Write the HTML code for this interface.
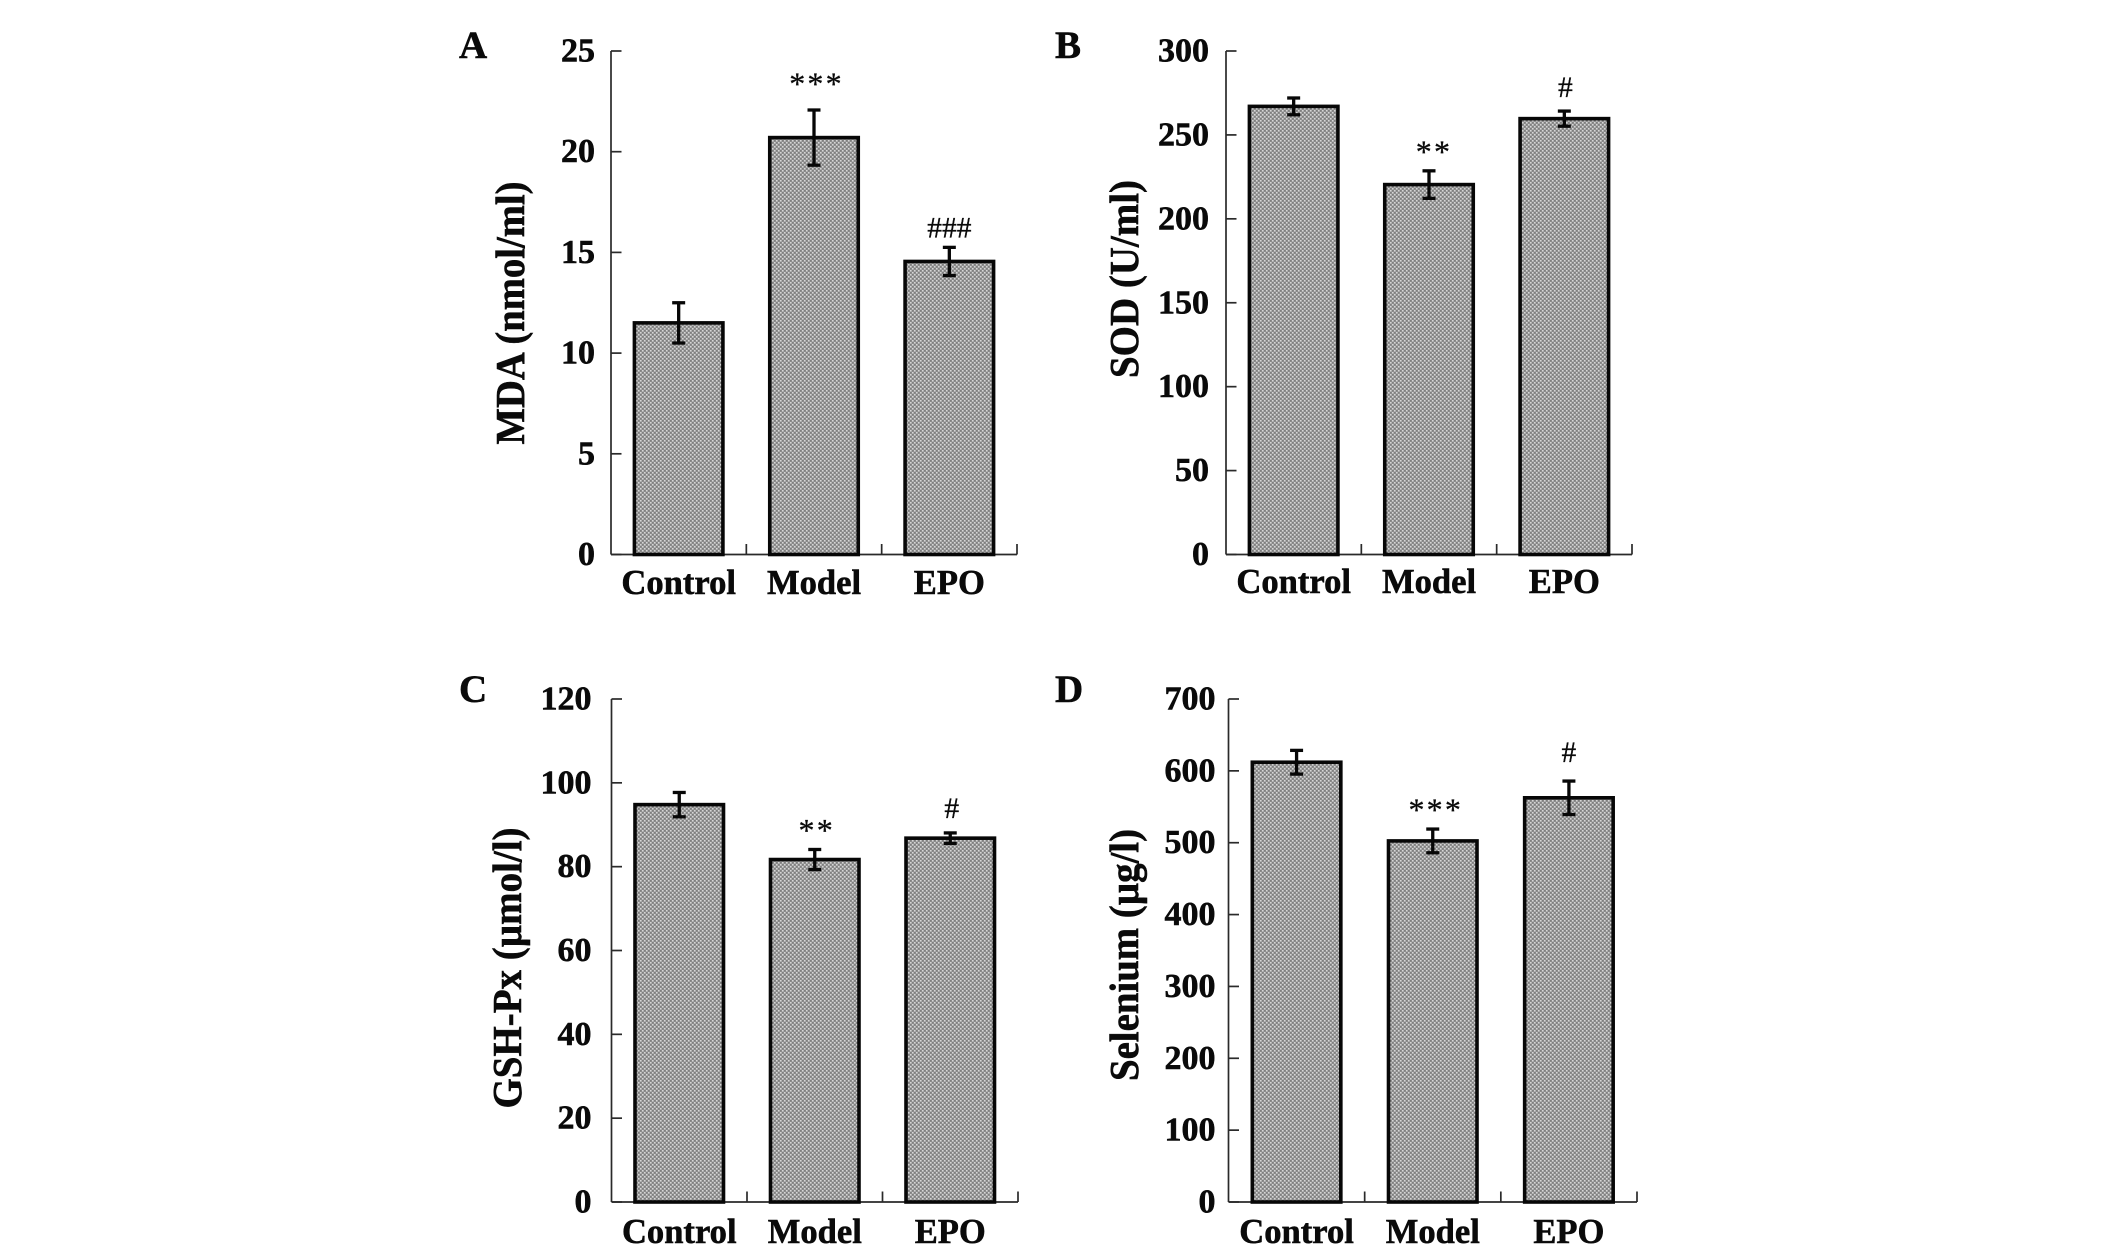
<!DOCTYPE html>
<html lang="en">
<head>
<meta charset="utf-8">
<title>Oxidative stress markers by group</title>
<style>
  html, body { margin: 0; padding: 0; background: #fff; }
  body { width: 2126px; height: 1251px; overflow: hidden; }
  svg { display: block; }
  text { font-family: "Liberation Serif", serif; fill: #0a0a0a; }
  .bold { font-weight: 700; stroke: #0a0a0a; stroke-width: 0.55px; }
  .sig { stroke: #0a0a0a; stroke-width: 0.3px; }
</style>
</head>
<body>
<svg id="figure" xmlns="http://www.w3.org/2000/svg" width="2126" height="1251" viewBox="0 0 2126 1251">
  <defs>
    <pattern id="halftone" width="4" height="4" patternUnits="userSpaceOnUse">
      <rect width="4" height="4" fill="#959595"></rect>
      <rect x="0" y="0" width="1.5" height="1.5" fill="#d6d6d6"></rect>
      <rect x="2" y="2" width="1.5" height="1.5" fill="#d6d6d6"></rect>
      <rect x="2" y="0" width="1.5" height="1.5" fill="#7e7e7e"></rect>
      <rect x="0" y="2" width="1.5" height="1.5" fill="#7e7e7e"></rect>
    </pattern>
  </defs>
  <rect width="2126" height="1251" fill="#ffffff"></rect>
</svg>
<script>
// ---- Chart data ----
const categories = ['Control', 'Model', 'EPO'];

const mdaValues = [11.5, 20.7, 14.55];
const mdaErrors = [1.0, 1.37, 0.7];
const mdaTicks = [0, 5, 10, 15, 20, 25];
const mdaMarks = ['', '***', '###'];

const sodValues = [267, 220.4, 259.7];
const sodErrors = [5, 8.2, 4.5];
const sodTicks = [0, 50, 100, 150, 200, 250, 300];
const sodMarks = ['', '**', '#'];

const gshValues = [94.8, 81.7, 86.8];
const gshErrors = [2.9, 2.4, 1.25];
const gshTicks = [0, 20, 40, 60, 80, 100, 120];
const gshMarks = ['', '**', '#'];

const seleniumValues = [612, 502.5, 562.5];
const seleniumErrors = [16.5, 16.5, 23.3];
const seleniumTicks = [0, 100, 200, 300, 400, 500, 600, 700];
const seleniumMarks = ['', '***', '#'];

// ---- Panel layout ----
const panels = [
  { id: 'a', letter: 'A', title: 'MDA (nmol/ml)', values: mdaValues, errors: mdaErrors, ticks: mdaTicks, marks: mdaMarks,
    x0: 611, x1: 1017, yTop: 51, yBase: 554.5, labelGap: 16, catBase: 594, letterX: 459, letterY: 58,
    titleX: 524, titleY: 313, titleLen: 263, markGap: [0, 30, 20], markDx: [0, 2.5, 0] },
  { id: 'b', letter: 'B', title: 'SOD (U/ml)', values: sodValues, errors: sodErrors, ticks: sodTicks, marks: sodMarks,
    x0: 1226, x1: 1632, yTop: 51, yBase: 554.5, labelGap: 17, catBase: 593, letterX: 1055, letterY: 58,
    titleX: 1138, titleY: 279, titleLen: 198, markGap: [0, 23, 24], markDx: [0, 5, 1] },
  { id: 'c', letter: 'C', title: 'GSH-Px (\u00b5mol/l)', values: gshValues, errors: gshErrors, ticks: gshTicks, marks: gshMarks,
    x0: 611.5, x1: 1018, yTop: 699, yBase: 1202, labelGap: 20, catBase: 1243, letterX: 459, letterY: 702,
    titleX: 521, titleY: 968, titleLen: 281, markGap: [0, 23, 25], markDx: [0, 2, 1.5] },
  { id: 'd', letter: 'D', title: 'Selenium (\u00b5g/l)', values: seleniumValues, errors: seleniumErrors, ticks: seleniumTicks, marks: seleniumMarks,
    x0: 1228.5, x1: 1637, yTop: 699, yBase: 1202, labelGap: 13, catBase: 1243, letterX: 1055, letterY: 702,
    titleX: 1138, titleY: 955, titleLen: 252, markGap: [0, 23, 29], markDx: [0, 3, 0] }
];

const SVG_NS = 'http://www.w3.org/2000/svg';
const svgRoot = document.getElementById('figure');

function add(tag, parent, attrs, text) {
  const node = document.createElementNS(SVG_NS, tag);
  for (const key in attrs) node.setAttribute(key, attrs[key]);
  if (text !== undefined) node.textContent = text;
  parent.appendChild(node);
  return node;
}

function yScale(panel) {
  const maxTick = panel.ticks[panel.ticks.length - 1];
  return function (v) { return panel.yBase - (v / maxTick) * (panel.yBase - panel.yTop); };
}

function xBand(panel) {
  const band = (panel.x1 - panel.x0) / categories.length;
  return function (i) { return panel.x0 + band * (i + 0.5); };
}

const BAR_WIDTH = 88.5;
const CAP_HALF = 6.5;

panels.forEach(function (p) {
  const y = yScale(p);
  const xc = xBand(p);
  const band = (p.x1 - p.x0) / categories.length;

  const g = add('g', svgRoot, {});
  
  

  const letter = add('text', g, { x: p.letterX, y: p.letterY, class: 'bold', 'font-size': 39 }, p.letter);
  
  

  const title = add('text', g, {
    class: 'bold', 'font-size': 41, 'text-anchor': 'middle',
    textLength: p.titleLen, lengthAdjust: 'spacingAndGlyphs',
    transform: 'translate(' + p.titleX + ' ' + p.titleY + ') rotate(-90)'
  }, p.title);
  
  

  const yAxis = add('line', g, { x1: p.x0, x2: p.x0, y1: p.yTop, y2: p.yBase, stroke: '#2a2a2a', 'stroke-width': 1.7 });
  
  

  const xAxis = add('line', g, { x1: p.x0, x2: p.x1, y1: p.yBase, y2: p.yBase, stroke: '#2a2a2a', 'stroke-width': 1.7 });
  
  

  // bars sit on top of the axis line
  p.values.forEach(function (v, i) {
    const bar = add('rect', g, {
      x: xc(i) - BAR_WIDTH / 2, y: y(v), width: BAR_WIDTH, height: p.yBase - y(v),
      fill: 'url(#halftone)', stroke: '#070707', 'stroke-width': 3.6
    });
    
    
  });

  p.ticks.forEach(function (t) {
    const tick = add('line', g, { x1: p.x0, x2: p.x0 + 10.5, y1: y(t), y2: y(t), stroke: '#2a2a2a', 'stroke-width': 1.7 });
    
    

    const label = add('text', g, {
      x: p.x0 - p.labelGap, y: y(t) + 10.5, class: 'bold', 'font-size': 34, 'text-anchor': 'end'
    }, String(t));
    
    
  });

  categories.forEach(function (c, i) {
    const divider = add('line', g, {
      x1: p.x0 + band * (i + 1), x2: p.x0 + band * (i + 1), y1: p.yBase, y2: p.yBase - 10.5,
      stroke: '#2a2a2a', 'stroke-width': 1.7
    });
    
    

    const label = add('text', g, {
      x: xc(i), y: p.catBase, class: 'bold', 'font-size': 34.6, 'text-anchor': 'middle'
    }, c);
    
    

    const v = p.values[i];
    const e = p.errors[i];
    const stem = add('line', g, { x1: xc(i), x2: xc(i), y1: y(v + e), y2: y(v - e), stroke: '#070707', 'stroke-width': 3.3 });
    
    

    const capTop = add('line', g, { x1: xc(i) - CAP_HALF, x2: xc(i) + CAP_HALF, y1: y(v + e), y2: y(v + e), stroke: '#070707', 'stroke-width': 3.3 });
    
    

    const capBottom = add('line', g, { x1: xc(i) - CAP_HALF, x2: xc(i) + CAP_HALF, y1: y(v - e), y2: y(v - e), stroke: '#070707', 'stroke-width': 3.3 });
    
    

    const mark = p.marks[i];
    if (mark) {
      const isStar = mark.charAt(0) === '*';
      const centerY = y(v + e) - p.markGap[i];
      const sig = add('text', g, {
        x: xc(i) + p.markDx[i], y: centerY + (isStar ? 14.5 : 10), class: 'sig',
        'font-size': isStar ? 32 : 29.5, 'text-anchor': 'middle',
        'letter-spacing': isStar ? 2.2 : 0
      }, mark);
      
      
    }
  });
});
</script>
</body>
</html>
